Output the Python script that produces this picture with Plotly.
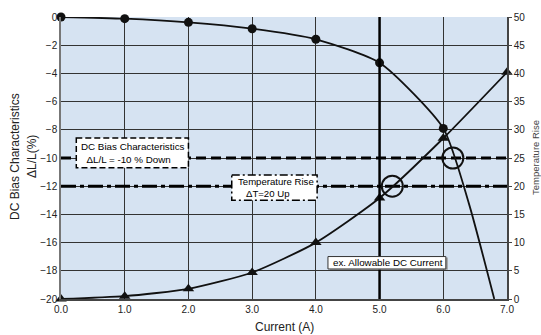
import plotly.graph_objects as go

current = [0, 1, 2, 3, 4, 5, 6, 7]
dc_bias_x = [0, 1, 2, 3, 4, 5, 6, 6.4, 6.8]
dc_bias = [0, -0.12, -0.38, -0.83, -1.58, -3.25, -7.9, -13.2, -20]
dc_marker_x = [0, 1, 2, 3, 4, 5, 6]
dc_marker = [0, -0.12, -0.38, -0.83, -1.58, -3.25, -7.9]
temp_rise = [0, 0.5, 1.8, 4.7, 10.0, 17.9, 28.5, 40.2]
x_ticks = [0, 1, 2, 3, 4, 5, 6, 7]
x_tick_labels = ["0.0", "1.0", "2.0", "3.0", "4.0", "5.0", "6.0", "7.0"]
left_ticks = [0, -2, -4, -6, -8, -10, -12, -14, -16, -18, -20]
right_ticks = [0, 5, 10, 15, 20, 25, 30, 35, 40, 45, 50]
dc_limit = -10
temp_limit = 20
allowable_current = 5
cross_points_x = [5.2, 6.15]
cross_points_y = [-12, -10]

FONT = "Liberation Sans, Arial, sans-serif"
W, H = 541, 335
L, R, T, B = 61, 34, 17, 36
PW, PH = W - L - R, H - T - B


def px_x(p):
    return (p - L) / PW


def px_y(p):
    return (H - B - p) / PH


fig = go.Figure()

# limit lines
fig.add_trace(go.Scatter(x=[0, 7], y=[dc_limit, dc_limit], mode="lines",
                         line=dict(color="black", width=3, dash="10px,5px"),
                         showlegend=False, hoverinfo="skip"))
fig.add_trace(go.Scatter(x=[0, 7], y=[temp_limit, temp_limit], mode="lines", yaxis="y2",
                         line=dict(color="black", width=3, dash="15px,4px,4px,4px"),
                         showlegend=False, hoverinfo="skip"))

# DC bias curve
fig.add_trace(go.Scatter(x=dc_bias_x, y=dc_bias, mode="lines",
                         line=dict(color="#111", width=1.8, shape="spline", smoothing=0.6),
                         showlegend=False))
fig.add_trace(go.Scatter(x=dc_marker_x, y=dc_marker, mode="markers", cliponaxis=False,
                         marker=dict(symbol="circle", size=9, color="#111"),
                         showlegend=False))
# temperature rise curve
fig.add_trace(go.Scatter(x=current, y=temp_rise, mode="lines+markers", yaxis="y2", cliponaxis=False,
                         line=dict(color="#111", width=1.8, shape="spline", smoothing=0.6),
                         marker=dict(symbol="triangle-up", size=10, color="#111"),
                         showlegend=False))
# crossing circles
fig.add_trace(go.Scatter(x=cross_points_x, y=cross_points_y, mode="markers",
                         marker=dict(symbol="circle-open", size=21, color="#111", line=dict(width=2)),
                         showlegend=False))

shapes = [
    dict(type="line", xref="x", yref="y", x0=allowable_current, x1=allowable_current, y0=-20, y1=0,
         line=dict(color="black", width=2.5), layer="above"),
    dict(type="rect", xref="x", yref="y", x0=0.24, x1=2.0, y0=-8.58, y1=-10.7,
         fillcolor="white", line=dict(color="black", width=1.5, dash="6px,3px"), layer="above"),
    dict(type="rect", xref="x", yref="y", x0=2.68, x1=4.02, y0=-11.2, y1=-13.0,
         fillcolor="white", line=dict(color="black", width=1.5, dash="8px,3px,2px,3px"), layer="above"),
    dict(type="rect", xref="x", yref="y", x0=4.22, x1=6.07, y0=-17.05, y1=-17.93,
         fillcolor="#999", line=dict(width=0), layer="above"),
    dict(type="rect", xref="x", yref="y", x0=4.19, x1=6.04, y0=-16.99, y1=-17.87,
         fillcolor="white", line=dict(color="#333", width=1), layer="above"),
]

annotations = [
    dict(text="DC Bias Characteristics<br>  ΔL/L = -10 % Down", x=0.29, y=-9.64, xref="x", yref="y",
         xanchor="left", yanchor="middle", align="left", showarrow=False,
         font=dict(family=FONT, size=9.8, color="black")),
    dict(text="Temperature Rise<br>   ΔT=20 Up", x=2.74, y=-12.1, xref="x", yref="y",
         xanchor="left", yanchor="middle", align="left", showarrow=False,
         font=dict(family=FONT, size=9.6, color="black")),
    dict(text="ex. Allowable DC Current", x=4.23, y=-17.43, xref="x", yref="y",
         xanchor="left", yanchor="middle", align="left", showarrow=False,
         font=dict(family=FONT, size=9.8, color="black")),
    dict(text="Temperature Rise", x=px_x(535), y=px_y(158), xref="paper", yref="paper",
         showarrow=False, textangle=-90, xanchor="center", yanchor="middle",
         font=dict(family=FONT, size=9.5, color="#444")),
    dict(text="DC Bias Characteristics", x=px_x(15), y=px_y(157), xref="paper", yref="paper",
         showarrow=False, textangle=-90, xanchor="center", yanchor="middle",
         font=dict(family=FONT, size=12, color="#222")),
    dict(text="ΔL/L(%)", x=px_x(32), y=px_y(157), xref="paper", yref="paper",
         showarrow=False, textangle=-90, xanchor="center", yanchor="middle",
         font=dict(family=FONT, size=12, color="#222")),
    dict(text="Current (A)", x=px_x(284), y=px_y(327), xref="paper", yref="paper",
         showarrow=False, xanchor="center", yanchor="middle",
         font=dict(family=FONT, size=12, color="#222")),
]

fig.update_layout(
    width=W, height=H,
    margin=dict(l=L, r=R, t=T, b=B, autoexpand=False),
    paper_bgcolor="white",
    plot_bgcolor="#d6e3f2",
    font=dict(family=FONT, size=10, color="#222"),
    shapes=shapes,
    annotations=annotations,
    xaxis=dict(range=[0, 7], tickvals=x_ticks, ticktext=x_tick_labels, automargin=False,
               showgrid=True, gridcolor="#333", gridwidth=1, zeroline=False,
               showline=True, linecolor="#444", linewidth=1.5, mirror=False,
               ticks="", ticklen=0),
    yaxis=dict(range=[-20, 0], tickvals=left_ticks, automargin=False,
               showgrid=True, gridcolor="#333", gridwidth=1, zeroline=False,
               showline=True, linecolor="#777", linewidth=1.5, ticks=""),
    yaxis2=dict(range=[0, 50], tickvals=right_ticks, overlaying="y", side="right", automargin=False,
                showgrid=False, zeroline=False, showline=True, linecolor="#444", linewidth=1.5,
                ticks="outside", ticklen=3, tickcolor="#444"),
)

fig.write_html("out.html", config={"displayModeBar": False},
               post_script="document.body.style.margin='0';document.body.style.padding='0';"
                           "document.body.style.overflow='hidden';")
